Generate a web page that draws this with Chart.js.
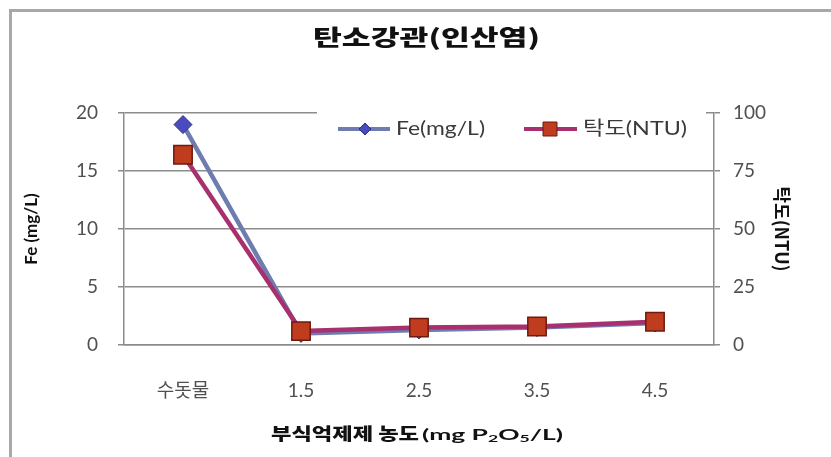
<!DOCTYPE html>
<html>
<head>
<meta charset="utf-8">
<script src="https://cdn.jsdelivr.net/npm/chart.js@4.4.1/dist/chart.umd.min.js"></script>
<style>
  html, body { margin: 0; padding: 0; background: #fff; }
  #wrap { position: relative; width: 831px; height: 457px; overflow: hidden; }
  #frame { position: absolute; left: 9px; top: 9px; right: -10px; bottom: -10px;
           border-top: 3px solid #a8a8a8; border-left: 3px solid #a8a8a8; }
  canvas { position: absolute; left: 0; top: 0; }
</style>
</head>
<body>
<div id="wrap">
  <div id="frame"></div>
  <canvas id="chart" width="831" height="457"></canvas>
</div>
<script>
const categories = ['수돗물', '1.5', '2.5', '3.5', '4.5'];
const feValues = [19, 1.0, 1.3, 1.5, 1.9];
const turbidityValues = [82, 6, 7.5, 8, 10];

const feMax = 20, feStep = 5;
const turbidityMax = 100, turbidityStep = 25;

const chartTitle = '탄소강관(인산염)';
const xTitleKo = '부식억제제 농도';
const feLabel = 'Fe(mg/L)';
const turbidityLabel = '탁도(NTU)';

const gridGray = '#8c8c8c';
const tickFont = { family: "Lato, 'Noto Sans CJK KR', sans-serif", size: 19 };

// draws text runs squeezed/stretched to fill [x0, x1], vertically centred on cy
function fitRuns(ctx, runs, x0, x1, cy, color) {
  ctx.save();
  let w = 0;
  runs.forEach(r => { ctx.font = r.font; w += ctx.measureText(r.text).width; });
  ctx.translate(x0, cy);
  ctx.scale((x1 - x0) / w, 1);
  ctx.textBaseline = 'middle';
  ctx.textAlign = 'left';
  ctx.fillStyle = color || '#111';
  let x = 0;
  runs.forEach(r => {
    ctx.font = r.font;
    ctx.fillText(r.text, x, r.dy || 0);
    x += ctx.measureText(r.text).width;
  });
  ctx.restore();
}

function drawMarker(ctx, style, x, y, r, fill, stroke) {
  ctx.save();
  ctx.fillStyle = fill;
  ctx.strokeStyle = stroke;
  ctx.lineWidth = 1;
  ctx.beginPath();
  if (style === 'rectRot') {
    ctx.moveTo(x, y - r); ctx.lineTo(x + r, y); ctx.lineTo(x, y + r); ctx.lineTo(x - r, y);
    ctx.closePath();
  } else {
    ctx.rect(x - r, y - r, r * 2, r * 2);
  }
  ctx.fill();
  ctx.stroke();
  ctx.restore();
}

const legendSlots = [
  { line: [338, 390], marker: 365, size: 6, text: [396, 485] },
  { line: [524, 577], marker: 550, size: 7, text: [583, 687] }
];

const decorations = {
  id: 'decorations',
  afterDraw(chart) {
    const ctx = chart.ctx;

    fitRuns(ctx, [{ text: chartTitle, font: "900 22px 'Noto Sans CJK KR'" }], 313, 540, 37);

    fitRuns(ctx, [{ text: xTitleKo, font: "900 17px 'Noto Sans CJK KR'" }], 271, 419, 434);
    const sub = "bold 10px Lato, 'DejaVu Sans'";
    const big = "bold 15px Lato, 'DejaVu Sans'";
    fitRuns(ctx, [
      { text: '(mg P', font: big },
      { text: '2', font: sub, dy: 4 },
      { text: 'O', font: big },
      { text: '5', font: sub, dy: 4 },
      { text: '/L)', font: big }
    ], 422, 563, 435);

    // legend sits on top of the plot, hiding the top gridline
    ctx.fillStyle = '#fff';
    ctx.fillRect(317, 104, 389, 48);
    const ly = 129;
    chart.data.datasets.forEach(ds => {
      const s = legendSlots[ds.legendSlot];
      ctx.save();
      ctx.strokeStyle = ds.borderColor;
      ctx.lineWidth = 4;
      ctx.beginPath();
      ctx.moveTo(s.line[0], ly);
      ctx.lineTo(s.line[1], ly);
      ctx.stroke();
      ctx.restore();
      drawMarker(ctx, ds.pointStyle, s.marker, ly, s.size, ds.pointBackgroundColor, ds.pointBorderColor);
      fitRuns(ctx, [{ text: ds.label, font: "19px Lato, 'Noto Sans CJK KR'" }], s.text[0], s.text[1], ly, '#3a3a3a');
    });
  }
};

new Chart(document.getElementById('chart').getContext('2d'), {
  type: 'line',
  data: {
    labels: categories,
    datasets: [
      {
        label: turbidityLabel,
        data: turbidityValues,
        yAxisID: 'y1',
        legendSlot: 1,
        borderColor: '#a8306e',
        borderWidth: 4.5,
        pointStyle: 'rect',
        pointRadius: 13,
        pointBackgroundColor: '#c03c1e',
        pointBorderColor: '#6e1a0e',
        pointBorderWidth: 1.5,
        tension: 0,
        order: 0
      },
      {
        label: feLabel,
        data: feValues,
        yAxisID: 'y',
        legendSlot: 0,
        borderColor: '#6e7cb0',
        borderWidth: 4.5,
        pointStyle: 'rectRot',
        pointRadius: 9,
        pointBackgroundColor: '#4b4bc0',
        pointBorderColor: '#2e2e80',
        pointBorderWidth: 1,
        tension: 0,
        order: 1
      }
    ]
  },
  options: {
    responsive: false,
    animation: false,
    layout: { padding: { top: 113, left: 0, right: 0, bottom: 0 } },
    plugins: {
      legend: { display: false },
      title: { display: false },
      tooltip: { enabled: false }
    },
    scales: {
      x: {
        offset: true,
        grid: { display: false },
        border: { display: true, color: gridGray, width: 1.5 },
        ticks: { font: tickFont, color: '#505050', padding: 26, maxRotation: 0 },
        afterFit(s) { s.height = 112; }
      },
      y: {
        position: 'left',
        min: 0,
        max: feMax,
        ticks: { stepSize: feStep, font: tickFont, color: '#505050', padding: 20 },
        grid: { color: gridGray, lineWidth: 1.5, tickLength: 6 },
        border: { color: gridGray, width: 1.5 },
        title: {
          display: true,
          text: 'Fe (mg/L)',
          font: { family: "Lato, 'DejaVu Sans'", size: 17, weight: 'bold' },
          color: '#111',
          padding: { top: 21, bottom: 0 }
        },
        afterFit(s) { s.width = 124; }
      },
      y1: {
        position: 'right',
        min: 0,
        max: turbidityMax,
        ticks: { stepSize: turbidityStep, font: tickFont, color: '#505050', padding: 13 },
        grid: { drawOnChartArea: false, color: gridGray, lineWidth: 1.5, tickLength: 6 },
        border: { color: gridGray, width: 1.5 },
        title: {
          display: true,
          text: '탁도(NTU)',
          font: { family: "'Noto Sans CJK KR'", size: 18, weight: 'bold' },
          color: '#111',
          padding: { top: 38, bottom: 0 }
        },
        afterFit(s) { s.width = 117; }
      }
    }
  },
  plugins: [decorations]
});
</script>
</body>
</html>
